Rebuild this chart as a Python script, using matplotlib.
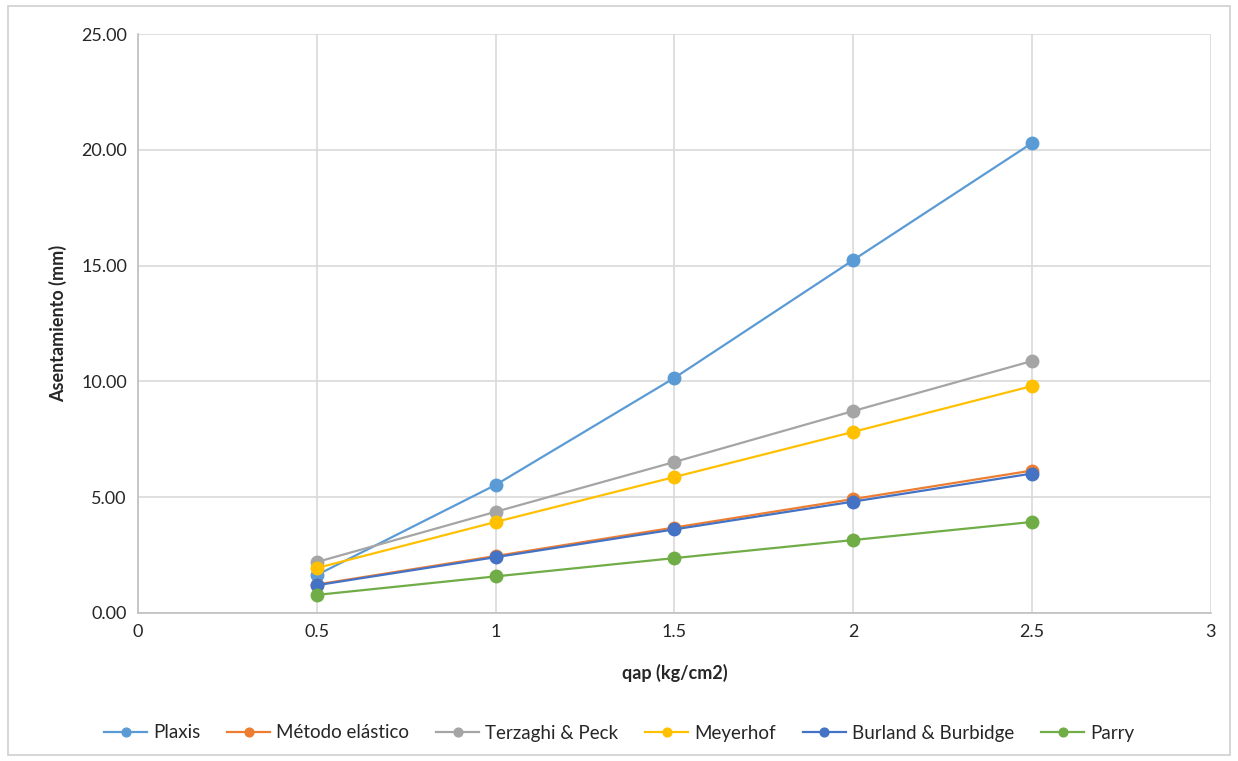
import matplotlib.pyplot as plt
from matplotlib.patches import Rectangle

plt.rcParams['font.family'] = ['Lato', 'DejaVu Sans']

# Load levels and settlement estimates per method
qap = [0.5, 1.0, 1.5, 2.0, 2.5]
plaxis = [1.64, 5.53, 10.15, 15.24, 20.29]
metodo_elastico = [1.23, 2.46, 3.69, 4.92, 6.15]
terzaghi_peck = [2.20, 4.37, 6.52, 8.72, 10.88]
meyerhof = [1.94, 3.93, 5.87, 7.82, 9.80]
burland_burbidge = [1.20, 2.41, 3.61, 4.81, 6.02]
parry = [0.78, 1.58, 2.37, 3.15, 3.93]

series = [
    ('Plaxis', plaxis, '#5B9BD5'),
    ('Método elástico', metodo_elastico, '#ED7D31'),
    ('Terzaghi & Peck', terzaghi_peck, '#A5A5A5'),
    ('Meyerhof', meyerhof, '#FFC000'),
    ('Burland & Burbidge', burland_burbidge, '#4472C4'),
    ('Parry', parry, '#70AD47'),
]

TEXT = '#262626'
GRID = '#D9D9D9'

fig = plt.figure(figsize=(12.38, 7.61), dpi=100)
fig.patch.set_facecolor('white')
fig.patches.append(Rectangle((8 / 1238, 6 / 761), 1222 / 1238, 749 / 761,
                             transform=fig.transFigure, fill=False,
                             edgecolor='#D0D0D0', linewidth=1.2))

ax = fig.add_axes([0.1115, 0.1945, 0.8665, 0.7608])

for name, vals, color in series:
    ax.plot(qap, vals, color=color, linewidth=1.6, marker='o',
            markersize=9, label=name, zorder=3)

ax.set_xlim(0, 3)
ax.set_ylim(0, 25)
ax.set_xticks([0, 0.5, 1, 1.5, 2, 2.5, 3])
ax.set_xticklabels(['0', '0.5', '1', '1.5', '2', '2.5', '3'])
ax.set_yticks([0, 5, 10, 15, 20, 25])
ax.set_yticklabels([f'{v:.2f}' for v in [0, 5, 10, 15, 20, 25]])

ax.grid(True, color=GRID, linewidth=1.2, zorder=0)
ax.set_axisbelow(True)
for side in ['top', 'right']:
    ax.spines[side].set_visible(False)
for side in ['left', 'bottom']:
    ax.spines[side].set_color('#BFBFBF')
    ax.spines[side].set_linewidth(1.2)
ax.tick_params(length=0, labelsize=13, colors=TEXT, pad=8)

ax.set_xlabel('qap (kg/cm2)', fontsize=13, fontweight='bold', color=TEXT, labelpad=17)
ax.set_ylabel('Asentamiento (mm)', fontsize=13, fontweight='bold', color=TEXT, labelpad=10)

fig.legend(loc='center', bbox_to_anchor=(0.5, 1 - 733 / 761), ncol=6,
           frameon=False, fontsize=13.5, handlelength=2.3, handletextpad=0.3,
           columnspacing=1.45, markerscale=0.7, labelcolor=TEXT)

fig.savefig('out.png', dpi=100)
